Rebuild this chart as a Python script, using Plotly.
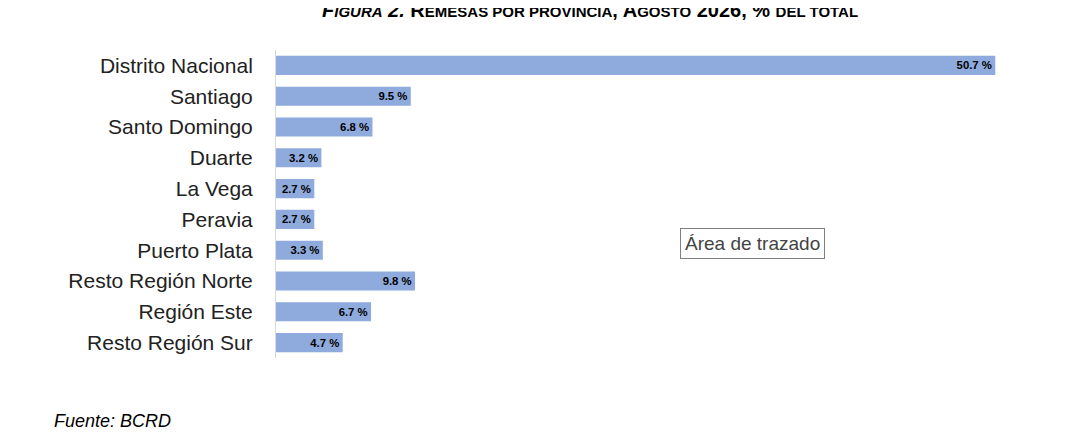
import plotly.graph_objects as go

provincias = ["Distrito Nacional", "Santiago", "Santo Domingo", "Duarte", "La Vega",
              "Peravia", "Puerto Plata", "Resto Región Norte", "Región Este", "Resto Región Sur"]
valores = [50.7, 9.5, 6.8, 3.2, 2.7, 2.7, 3.3, 9.8, 6.7, 4.7]
etiquetas = [f"{v:.1f} %" for v in valores]

# the page adds an 8px offset, so margins are set 8px smaller
L, T, R, B = 268, 42, 70, 85
W, H = 1080, 435

fig = go.Figure()
fig.add_trace(go.Bar(
    x=valores, y=provincias, orientation="h",
    marker=dict(color="#8faadc", line=dict(width=0)),
    width=0.62,
    text=["<b>" + t + "</b>" for t in etiquetas],
    textposition="inside", insidetextanchor="end",
    textfont=dict(family="Arial", size=13, color="black"),
    cliponaxis=False,
))

title = ("<b><i>F<span style='font-size:15px'>IGURA</span> 2. </i>"
         "R<span style='font-size:15px'>EMESAS POR PROVINCIA</span>, "
         "A<span style='font-size:15px'>GOSTO</span> 2026, % "
         "<span style='font-size:15px'>DEL TOTAL</span></b>")

fig.update_layout(
    width=W, height=H,
    margin=dict(l=L, r=R, t=T, b=B),
    paper_bgcolor="white", plot_bgcolor="white",
    showlegend=False,
    xaxis=dict(range=[0, 52.3], visible=False),
    yaxis=dict(autorange="reversed", showgrid=False, showline=True,
               linecolor="#d9d9d9", linewidth=1, ticks="",
               ticklabelstandoff=18,
               tickfont=dict(family="Arial", size=21, color="#222")),
    annotations=[
        dict(text=title, x=582, y=2, showarrow=False, yanchor="middle",
             font=dict(family="Arial", size=20, color="black")),
        dict(text="<i>Fuente: BCRD</i>", x=44, y=413, showarrow=False,
             xanchor="left", yanchor="middle",
             font=dict(family="Arial", size=18, color="black")),
        dict(text="Área de trazado", x=672, y=235, showarrow=False,
             xanchor="left", yanchor="middle", bgcolor="white",
             bordercolor="#808080", borderwidth=1, borderpad=4,
             font=dict(family="Arial", size=19, color="#444")),
    ],
)
# annotation positions given in pixels -> paper coordinates
pw, ph = W - L - R, H - T - B
for a in fig.layout.annotations:
    a.xref = "paper"; a.yref = "paper"
    a.x = (a.x - L) / pw
    a.y = 1 - (a.y - T) / ph

fig.write_html("out.html")
